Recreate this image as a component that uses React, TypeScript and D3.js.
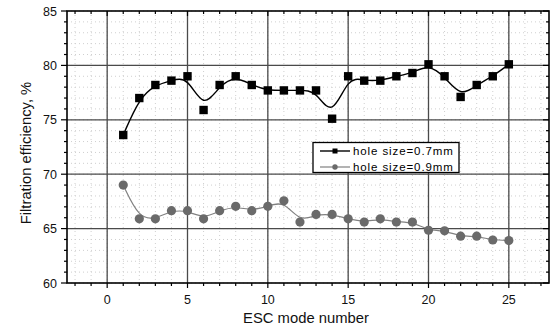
import React from "react";
import * as d3 from "d3";

// ESC mode numbers 1..25
const modes = [1, 2, 3, 4, 5, 6, 7, 8, 9, 10, 11, 12, 13, 14, 15, 16, 17, 18, 19, 20, 21, 22, 23, 24, 25];
// Filtration efficiency (%) for hole size 0.7 mm
const eff07 = [73.6, 77.0, 78.2, 78.6, 79.0, 75.9, 78.2, 79.0, 78.2, 77.7, 77.7, 77.7, 77.7, 75.1, 79.0, 78.6, 78.6, 79.0, 79.3, 80.1, 79.0, 77.1, 78.2, 79.0, 80.1];
// Filtration efficiency (%) for hole size 0.9 mm
const eff09 = [69.0, 65.9, 65.9, 66.65, 66.65, 65.9, 66.65, 67.05, 66.65, 67.05, 67.55, 65.6, 66.3, 66.3, 65.9, 65.6, 65.9, 65.6, 65.6, 64.85, 64.8, 64.3, 64.3, 63.95, 63.9];

const xTicks = [0, 5, 10, 15, 20, 25];
const yTicks = [60, 65, 70, 75, 80, 85];
const legendLabels = ["hole size=0.7mm", "hole size=0.9mm"];

const W = 552;
const H = 330;
const M = { left: 67, right: 549, top: 11, bottom: 283 };

export default function App() {
  const x = d3.scaleLinear().domain([-2.5, 27.5]).range([M.left, M.right]);
  const y = d3.scaleLinear().domain([60, 85]).range([M.bottom, M.top]);

  const xMinor = d3.range(-2, 28, 1);
  const yMinor = d3.range(60, 86, 1);

  const line = d3
    .line<number>()
    .x((_, i) => x(modes[i]))
    .y((d) => y(d))
    .curve(d3.curveBasis);

  const font = "Arial, 'Liberation Sans', sans-serif";

  return (
    <svg
      width={W}
      height={H}
      style={{ position: "absolute", left: 0, top: 0, background: "#fff" }}
      fontFamily={font}
    >
      {/* minor dotted grid */}
      <g stroke="#cfcfcf" strokeWidth={1} strokeDasharray="1,3">
        {xMinor.map((v) => (
          <line key={"xm" + v} x1={x(v)} x2={x(v)} y1={M.top} y2={M.bottom} />
        ))}
        {yMinor.map((v) => (
          <line key={"ym" + v} x1={M.left} x2={M.right} y1={y(v)} y2={y(v)} />
        ))}
      </g>
      {/* major grid */}
      <g stroke="#4a4a4a" strokeWidth={1.3}>
        {xTicks.map((v) => (
          <line key={"xg" + v} x1={x(v)} x2={x(v)} y1={M.top} y2={M.bottom} />
        ))}
        {yTicks
          .filter((v) => v !== 60 && v !== 85)
          .map((v) => (
            <line key={"yg" + v} x1={M.left} x2={M.right} y1={y(v)} y2={y(v)} />
          ))}
      </g>

      {/* ticks */}
      <g stroke="#000" strokeWidth={1.2}>
        {xMinor.map((v) => (
          <g key={"xt" + v}>
            <line x1={x(v)} x2={x(v)} y1={M.bottom} y2={M.bottom + (v % 5 === 0 ? 5 : 3)} />
            <line x1={x(v)} x2={x(v)} y1={M.top} y2={M.top + (v % 5 === 0 ? 5 : 3)} />
          </g>
        ))}
        {yMinor.map((v) => (
          <g key={"yt" + v}>
            <line x1={M.left} x2={M.left - (v % 5 === 0 ? 6 : 3)} y1={y(v)} y2={y(v)} />
            <line x1={M.right} x2={M.right - (v % 5 === 0 ? 6 : 3)} y1={y(v)} y2={y(v)} />
          </g>
        ))}
      </g>

      {/* frame */}
      <rect
        x={M.left}
        y={M.top}
        width={M.right - M.left}
        height={M.bottom - M.top}
        fill="none"
        stroke="#000"
        strokeWidth={1.6}
      />

      {/* tick labels */}
      <g fontSize={12.5} fill="#111">
        {xTicks.map((v) => (
          <text key={"xl" + v} x={x(v)} y={M.bottom + 20.5} textAnchor="middle">
            {v}
          </text>
        ))}
        {yTicks.map((v) => (
          <text key={"yl" + v} x={M.left - 10} y={y(v) + 4.5} textAnchor="end">
            {v}
          </text>
        ))}
      </g>

      {/* axis titles */}
      <text x={306} y={323} textAnchor="middle" fontSize={14.8} fill="#111">
        ESC mode number
      </text>
      <text
        transform={`translate(31, 153) rotate(-90)`}
        textAnchor="middle"
        fontSize={14.8}
        fill="#111"
      >
        Filtration efficiency, %
      </text>

      {/* series 0.9 mm */}
      <path d={line(eff09) ?? ""} fill="none" stroke="#808080" strokeWidth={1.2} />
      {eff09.map((v, i) => (
        <circle key={"c" + i} cx={x(modes[i])} cy={y(v)} r={4.6} fill="#6a6a6a" />
      ))}

      {/* series 0.7 mm */}
      <path d={line(eff07) ?? ""} fill="none" stroke="#000" strokeWidth={1.4} />
      {eff07.map((v, i) => (
        <rect key={"s" + i} x={x(modes[i]) - 4.2} y={y(v) - 4.2} width={8.4} height={8.4} fill="#000" />
      ))}

      {/* legend */}
      <g>
        <rect x={313} y={142.5} width={146} height={30} fill="#fff" stroke="#000" strokeWidth={1.3} />
        <line x1={320} x2={350} y1={151} y2={151} stroke="#000" strokeWidth={1.4} />
        <rect x={332.5} y={148.5} width={5} height={5} fill="#000" />
        <text x={353} y={155} fontSize={11.5} letterSpacing={0.9} fill="#000">
          {legendLabels[0]}
        </text>
        <line x1={320} x2={350} y1={167} y2={167} stroke="#808080" strokeWidth={1.2} />
        <circle cx={335} cy={167} r={2.7} fill="#6a6a6a" />
        <text x={353} y={171} fontSize={11.5} letterSpacing={0.9} fill="#000">
          {legendLabels[1]}
        </text>
      </g>
    </svg>
  );
}
